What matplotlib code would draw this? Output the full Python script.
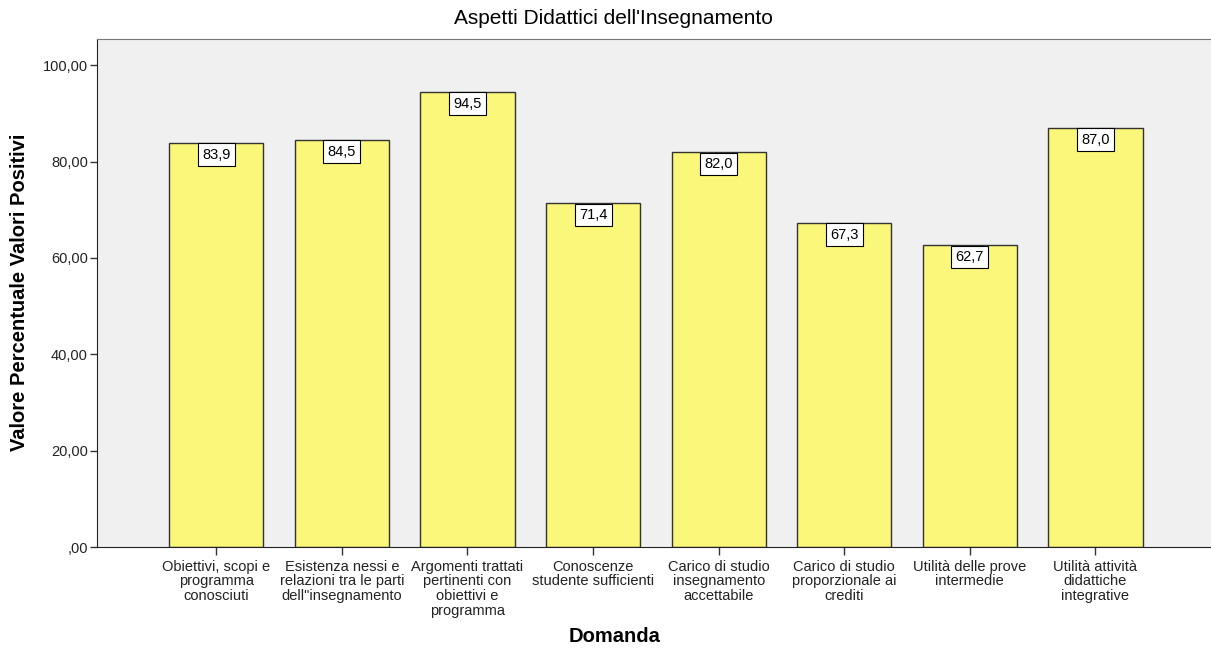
import matplotlib.pyplot as plt
import numpy as np

plt.rcParams['font.family'] = ['Liberation Sans', 'DejaVu Sans']

# Data
categories = [
    'Obiettivi, scopi e\nprogramma\nconosciuti',
    'Esistenza nessi e\nrelazioni tra le parti\ndell"insegnamento',
    'Argomenti trattati\npertinenti con\nobiettivi e\nprogramma',
    'Conoscenze\nstudente sufficienti',
    'Carico di studio\ninsegnamento\naccettabile',
    'Carico di studio\nproporzionale ai\ncrediti',
    'Utilità delle prove\nintermedie',
    'Utilità attività\ndidattiche\nintegrative',
]
values = [83.9, 84.5, 94.5, 71.4, 82.0, 67.3, 62.7, 87.0]
yticks = [0, 20, 40, 60, 80, 100]
ytick_labels = [',00', '20,00', '40,00', '60,00', '80,00', '100,00']

fig = plt.figure(figsize=(12.11, 6.52), dpi=100)
ax = fig.add_axes([0.0801, 0.161, 0.9199, 0.779])
ax.set_facecolor('#F0F0F0')

x = np.arange(len(categories))
ax.bar(x, values, width=0.75, color='#FAF77A', edgecolor='#333333', linewidth=1.0, zorder=2)

# value labels in boxes at top of each bar
for xi, v in zip(x, values):
    ax.annotate(f'{v:.1f}'.replace('.', ','), (xi, v), xytext=(0, -3.6),
                textcoords='offset points', ha='center', va='top', fontsize=10.5,
                bbox=dict(boxstyle='square,pad=0.3', fc='white', ec='black', lw=0.8),
                zorder=3)

ax.set_xlim(-0.95, 7.92)
ax.set_ylim(0, 105.4)
ax.set_xticks(x)
ax.set_xticklabels(categories, fontsize=10.5, linespacing=1.08)
ax.set_yticks(yticks)
ax.set_yticklabels(ytick_labels, fontsize=10.5)
ax.tick_params(axis='y', length=5, width=1, color='#333333', labelcolor='#222222', pad=1.5)
ax.tick_params(axis='x', length=6, width=1, color='#333333', labelcolor='#222222', pad=3)

ax.spines['right'].set_visible(False)
ax.spines['top'].set_color('#777777')
ax.spines['left'].set_color('#222222')
ax.spines['bottom'].set_color('#222222')

fig.text(20 / 1211, 1 - 292 / 652, 'Valore Percentuale Valori Positivi', rotation=90,
         fontsize=14.5, fontweight='bold', ha='center', va='center')
fig.text(615 / 1211, 1 - 637 / 652, 'Domanda', fontsize=14.5, fontweight='bold',
         ha='center', va='center')
fig.text(613 / 1211, 1 - 18 / 652, "Aspetti Didattici dell'Insegnamento", fontsize=15,
         ha='center', va='center')

plt.savefig('out.png', dpi=100)
